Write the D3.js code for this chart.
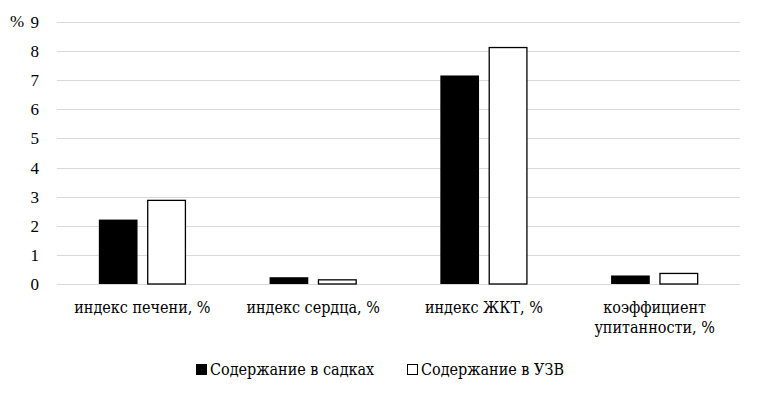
<!DOCTYPE html>
<html>
<head>
<meta charset="utf-8">
<script src="https://cdn.jsdelivr.net/npm/d3@7"></script>
<style>
  body { margin: 0; background: #fff; }
</style>
</head>
<body>
<script>
'use strict';

// chart data
const categories = [["индекс печени, %"], ["индекс сердца, %"], ["индекс ЖКТ, %"], ["коэффициент", "упитанности, %"]];
const seriesNames = ["Содержание в садках", "Содержание в УЗВ"];
const cageValues = [2.23, 0.25, 7.18, 0.31];
const rasValues = [2.89, 0.16, 8.14, 0.38];
const yTicks = [0, 1, 2, 3, 4, 5, 6, 7, 8, 9];

(function() {
  const width = 762, height = 397;
  const plot = { left: 57, right: 740, top: 22, bottom: 284 };
  // Liberation Serif has no Cyrillic here, so Cyrillic labels use DejaVu Serif Condensed
  const numFont = "'Liberation Serif', serif";
  const cyrFont = "'DejaVu Serif Condensed', 'DejaVu Serif', serif";

  const svg = d3.select('body')
    .append('svg')
    .attr('width', width)
    .attr('height', height);

  // scales
  const x0 = d3.scaleBand()
    .domain(d3.range(categories.length))
    .range([plot.left, plot.right])
    .paddingInner(0.49)
    .paddingOuter(0.245);

  const x1 = d3.scaleBand()
    .domain([0, 1])
    .range([0, x0.bandwidth()])
    .paddingInner(0.2);

  const y = d3.scaleLinear()
    .domain([0, 9])
    .range([plot.bottom, plot.top]);

  // gridlines
  svg.append('g')
    .selectAll('line')
    .data(yTicks)
    .enter()
    .append('line')
    .attr('x1', plot.left)
    .attr('x2', plot.right)
    .attr('y1', d => Math.round(y(d)) + 0.5)
    .attr('y2', d => Math.round(y(d)) + 0.5)
    .attr('stroke', '#d9d9d9')
    .attr('stroke-width', 1);

  // y axis labels
  const yAxis = d3.axisLeft(y).tickValues(yTicks).tickSize(0).tickPadding(0);
  const yg = svg.append('g')
    .attr('transform', 'translate(39, 0)')
    .call(yAxis);
  yg.attr('font-family', null).attr('font-size', null);
  yg.select('.domain').remove();
  yg.selectAll('text')
    .style('font-family', numFont)
    .style('font-size', '17px')
    .attr('fill', '#000');

  svg.append('text')
    .attr('x', 10)
    .attr('y', y(9) + 5)
    .style('font-size', '17px')
    .style('font-family', numFont)
    .text('%');

  // bars
  const groups = svg.append('g')
    .selectAll('g')
    .data(categories.map((c, i) => [cageValues[i], rasValues[i]]))
    .enter()
    .append('g')
    .attr('transform', (d, i) => 'translate(' + x0(i) + ',0)');

  groups.selectAll('rect')
    .data(d => d)
    .enter()
    .append('rect')
    .attr('x', (d, j) => x1(j) + (j === 1 ? 0.5 : 0))
    .attr('y', d => y(d) + 0.5)
    .attr('width', (d, j) => x1.bandwidth() - (j === 1 ? 1 : 0))
    .attr('height', d => y(0) - y(d) - 0.5)
    .attr('fill', (d, j) => j === 0 ? '#000' : '#fff')
    .attr('stroke', (d, j) => j === 0 ? 'none' : '#000')
    .attr('stroke-width', 1.3);

  // category labels
  const xl = svg.append('g')
    .selectAll('text')
    .data(categories)
    .enter()
    .append('text')
    .attr('x', (d, i) => x0(i) + x0.bandwidth() / 2)
    .attr('y', 313)
    .attr('text-anchor', 'middle')
    .style('font-family', cyrFont)
    .style('font-size', '16px');
  xl.selectAll('tspan')
    .data(d => d)
    .enter()
    .append('tspan')
    .attr('x', function() { return d3.select(this.parentNode).attr('x'); })
    .attr('dy', (d, k) => k === 0 ? 0 : 20)
    .text(d => d);

  // legend
  const legendX = [196, 407];
  const legend = svg.append('g')
    .selectAll('g')
    .data(seriesNames)
    .enter()
    .append('g')
    .attr('transform', (d, i) => 'translate(' + legendX[i] + ',364)');
  legend.append('rect')
    .attr('x', 0.5)
    .attr('y', 0.5)
    .attr('width', 10)
    .attr('height', 10)
    .attr('fill', (d, i) => i === 0 ? '#000' : '#fff')
    .attr('stroke', '#000')
    .attr('stroke-width', 1);
  legend.append('text')
    .attr('x', 14)
    .attr('y', 11)
    .style('font-family', cyrFont)
    .style('font-size', '16px')
    .text(d => d);
})();
</script>
</body>
</html>
